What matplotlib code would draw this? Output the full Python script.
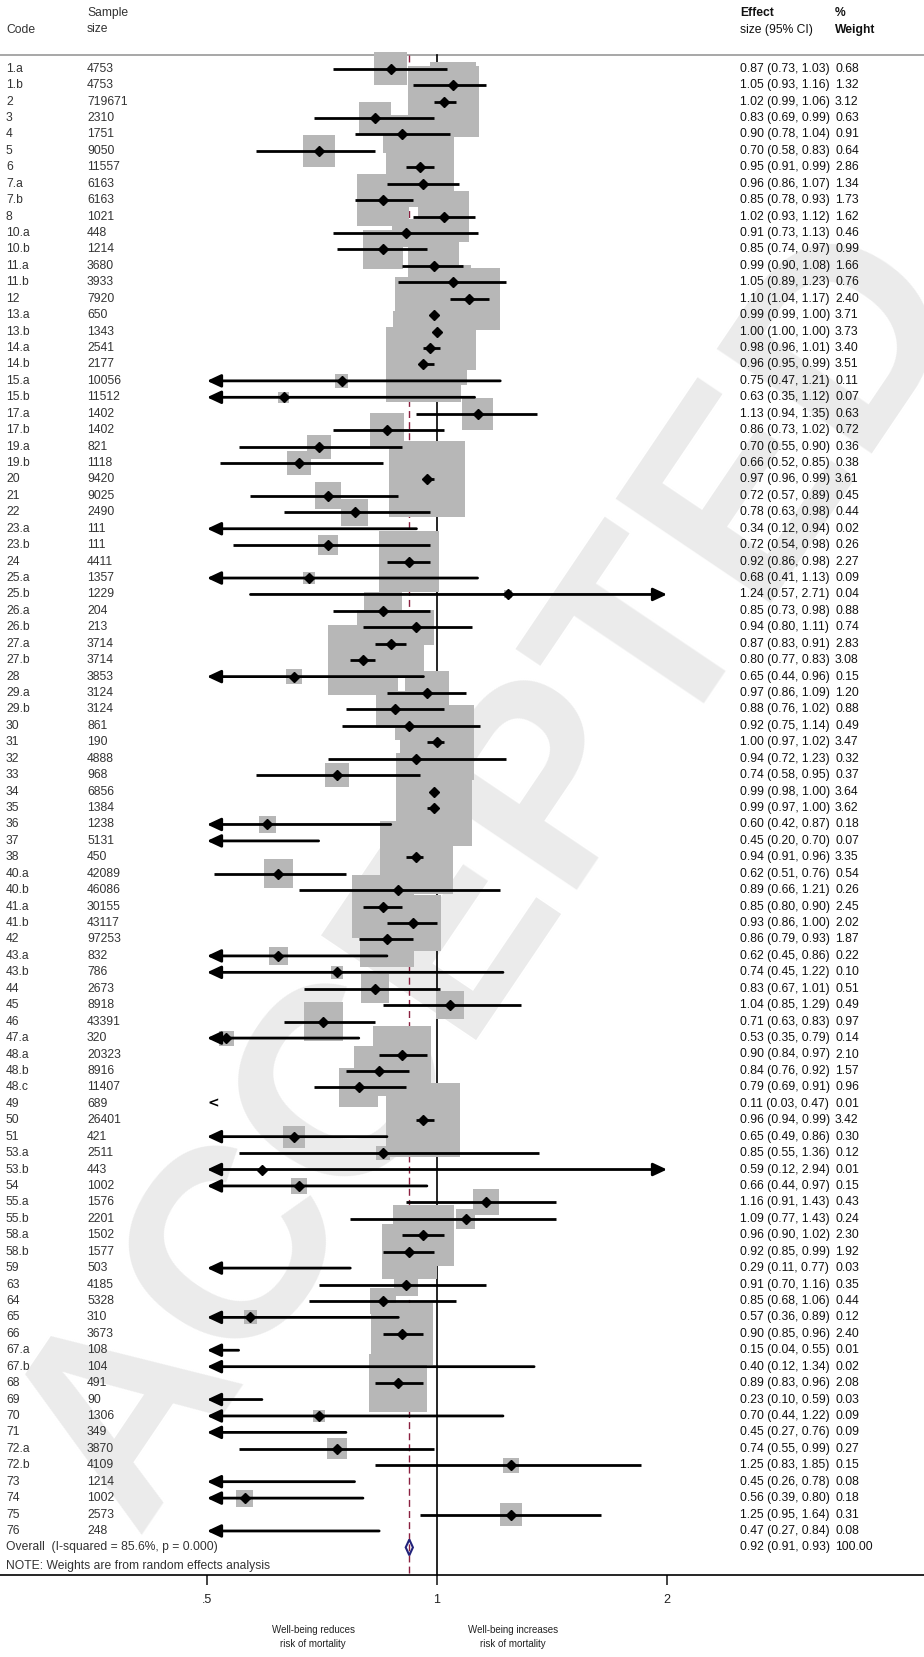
import matplotlib
matplotlib.use('Agg')
import matplotlib.pyplot as plt
import numpy as np
from matplotlib import transforms, font_manager
from matplotlib.ticker import NullLocator

codes = ["1.a","1.b","2","3","4","5","6","7.a","7.b","8",
         "10.a","10.b","11.a","11.b","12","13.a","13.b","14.a","14.b","15.a",
         "15.b","17.a","17.b","19.a","19.b","20","21","22","23.a","23.b",
         "24","25.a","25.b","26.a","26.b","27.a","27.b","28","29.a","29.b",
         "30","31","32","33","34","35","36","37","38","40.a",
         "40.b","41.a","41.b","42","43.a","43.b","44","45","46","47.a",
         "48.a","48.b","48.c","49","50","51","53.a","53.b","54","55.a",
         "55.b","58.a","58.b","59","63","64","65","66","67.a","67.b",
         "68","69","70","71","72.a","72.b","73","74","75","76"]
sizes = [4753,4753,719671,2310,1751,9050,11557,6163,6163,1021,
         448,1214,3680,3933,7920,650,1343,2541,2177,10056,
         11512,1402,1402,821,1118,9420,9025,2490,111,111,
         4411,1357,1229,204,213,3714,3714,3853,3124,3124,
         861,190,4888,968,6856,1384,1238,5131,450,42089,
         46086,30155,43117,97253,832,786,2673,8918,43391,320,
         20323,8916,11407,689,26401,421,2511,443,1002,1576,
         2201,1502,1577,503,4185,5328,310,3673,108,104,
         491,90,1306,349,3870,4109,1214,1002,2573,248]
effect = [0.87,1.05,1.02,0.83,0.90,0.70,0.95,0.96,0.85,1.02,
          0.91,0.85,0.99,1.05,1.10,0.99,1.00,0.98,0.96,0.75,
          0.63,1.13,0.86,0.70,0.66,0.97,0.72,0.78,0.34,0.72,
          0.92,0.68,1.24,0.85,0.94,0.87,0.80,0.65,0.97,0.88,
          0.92,1.00,0.94,0.74,0.99,0.99,0.60,0.45,0.94,0.62,
          0.89,0.85,0.93,0.86,0.62,0.74,0.83,1.04,0.71,0.53,
          0.90,0.84,0.79,0.11,0.96,0.65,0.85,0.59,0.66,1.16,
          1.09,0.96,0.92,0.29,0.91,0.85,0.57,0.90,0.15,0.40,
          0.89,0.23,0.70,0.45,0.74,1.25,0.45,0.56,1.25,0.47]
ci_low = [0.73,0.93,0.99,0.69,0.78,0.58,0.91,0.86,0.78,0.93,
          0.73,0.74,0.90,0.89,1.04,0.99,1.00,0.96,0.95,0.47,
          0.35,0.94,0.73,0.55,0.52,0.96,0.57,0.63,0.12,0.54,
          0.86,0.41,0.57,0.73,0.80,0.83,0.77,0.44,0.86,0.76,
          0.75,0.97,0.72,0.58,0.98,0.97,0.42,0.20,0.91,0.51,
          0.66,0.80,0.86,0.79,0.45,0.45,0.67,0.85,0.63,0.35,
          0.84,0.76,0.69,0.03,0.94,0.49,0.55,0.12,0.44,0.91,
          0.77,0.90,0.85,0.11,0.70,0.68,0.36,0.85,0.04,0.12,
          0.83,0.10,0.44,0.27,0.55,0.83,0.26,0.39,0.95,0.27]
ci_high = [1.03,1.16,1.06,0.99,1.04,0.83,0.99,1.07,0.93,1.12,
           1.13,0.97,1.08,1.23,1.17,1.00,1.00,1.01,0.99,1.21,
           1.12,1.35,1.02,0.90,0.85,0.99,0.89,0.98,0.94,0.98,
           0.98,1.13,2.71,0.98,1.11,0.91,0.83,0.96,1.09,1.02,
           1.14,1.02,1.23,0.95,1.00,1.00,0.87,0.70,0.96,0.76,
           1.21,0.90,1.00,0.93,0.86,1.22,1.01,1.29,0.83,0.79,
           0.97,0.92,0.91,0.47,0.99,0.86,1.36,2.94,0.97,1.43,
           1.43,1.02,0.99,0.77,1.16,1.06,0.89,0.96,0.55,1.34,
           0.96,0.59,1.22,0.76,0.99,1.85,0.78,0.80,1.64,0.84]
weights = [0.68,1.32,3.12,0.63,0.91,0.64,2.86,1.34,1.73,1.62,
           0.46,0.99,1.66,0.76,2.40,3.71,3.73,3.40,3.51,0.11,
           0.07,0.63,0.72,0.36,0.38,3.61,0.45,0.44,0.02,0.26,
           2.27,0.09,0.04,0.88,0.74,2.83,3.08,0.15,1.20,0.88,
           0.49,3.47,0.32,0.37,3.64,3.62,0.18,0.07,3.35,0.54,
           0.26,2.45,2.02,1.87,0.22,0.10,0.51,0.49,0.97,0.14,
           2.10,1.57,0.96,0.01,3.42,0.30,0.12,0.01,0.15,0.43,
           0.24,2.30,1.92,0.03,0.35,0.44,0.12,2.40,0.01,0.02,
           2.08,0.03,0.09,0.09,0.27,0.15,0.08,0.18,0.31,0.08]
overall_es, overall_lo, overall_hi = 0.92, 0.91, 0.93
overall_label = "Overall  (I-squared = 85.6%, p = 0.000)"
note_text = "NOTE: Weights are from random effects analysis"
tick_vals = [0.5, 1, 2]
tick_labels = [".5", "1", "2"]
x_min_clip, x_max_clip = 0.5, 2.0

# ---- fonts
avail = {f.name for f in font_manager.fontManager.ttflist}
fam = ['Liberation Sans Narrow', 'Liberation Sans', 'DejaVu Sans'] if 'Liberation Sans Narrow' in avail else ['Liberation Sans', 'DejaVu Sans']
plt.rcParams['font.family'] = fam

W, H = 924, 1657
fig = plt.figure(figsize=(W/100, H/100), dpi=100)

# watermark
fig.text(0.535, 0.47, "ACCEPTED", rotation=56, fontsize=195, color='#ebebeb',
         ha='center', va='center', fontweight='bold', family=['Liberation Sans', 'DejaVu Sans'],
         zorder=-5)

ax = fig.add_axes([0, 0, 1, 1])
ax.patch.set_visible(False)

# geometry (pixels)
x_one_px, px_per_doubling = 437.0, 230.0
row0_px, row_h = 68.7, 16.43
ax.set_xscale('log', base=2)
ax.set_xlim(2 ** (-x_one_px / px_per_doubling), 2 ** ((W - x_one_px) / px_per_doubling))
ax.set_ylim((H - row0_px) / row_h, -row0_px / row_h)

def py(px):
    return (px - row0_px) / row_h

n = len(codes)
ys = np.arange(n)
overall_y = n
note_y = py(1566.5)
axis_y = py(1575)
top_y = py(55)

# reference lines
ax.axhline(top_y, color='#a0a0a0', lw=1.3, zorder=1)
ax.plot([1, 1], [top_y, axis_y], color='black', lw=1.2, zorder=1)
ax.plot([overall_es, overall_es], [top_y, axis_y], color='#8b2040', lw=1.0,
        dashes=(5, 3), zorder=1)

# boxes
effect_a = np.array(effect); w_a = np.array(weights)
inside = (effect_a >= x_min_clip) & (effect_a <= x_max_clip)
side_pt = 40 * np.sqrt(w_a) * 0.72
ax.scatter(effect_a[inside], ys[inside], marker='s', s=side_pt[inside] ** 2,
           color='#b7b7b7', linewidths=0, zorder=2)

# CIs
lw = 2.0
astyle = 'head_length=0.75,head_width=0.35'
for i in range(n):
    y = ys[i]
    lo, hi = ci_low[i], ci_high[i]
    if hi < x_min_clip:
        ax.text(x_min_clip, y, "<", ha='left', va='center', fontsize=10,
                fontweight='bold', family=['DejaVu Sans'], zorder=4)
        continue
    left_arrow = lo < x_min_clip
    right_arrow = hi > x_max_clip
    a = max(lo, x_min_clip); b = min(hi, x_max_clip)
    if left_arrow and right_arrow:
        ax.annotate('', xy=(a, y), xytext=(b, y),
                    arrowprops=dict(arrowstyle='<|-|>,' + astyle,
                                    mutation_scale=11, lw=lw, color='black',
                                    shrinkA=0, shrinkB=0), zorder=3)
    elif left_arrow:
        ax.annotate('', xy=(a, y), xytext=(b, y),
                    arrowprops=dict(arrowstyle='-|>,' + astyle,
                                    mutation_scale=11, lw=lw, color='black',
                                    shrinkA=0, shrinkB=0), zorder=3)
    elif right_arrow:
        ax.annotate('', xy=(b, y), xytext=(a, y),
                    arrowprops=dict(arrowstyle='-|>,' + astyle,
                                    mutation_scale=11, lw=lw, color='black',
                                    shrinkA=0, shrinkB=0), zorder=3)
    else:
        ax.plot([a, b], [y, y], color='black', lw=lw, solid_capstyle='butt', zorder=3)

ax.plot(effect_a[inside], ys[inside], linestyle='none', marker='D', ms=5.2,
        color='black', zorder=4)

# overall diamond
hd = 0.48
ax.fill([overall_lo, overall_es, overall_hi, overall_es],
        [overall_y, overall_y - hd, overall_y, overall_y + hd],
        facecolor='none', edgecolor='#22227a', lw=1.5, zorder=4)

# axis
for s in ['top', 'left', 'right']:
    ax.spines[s].set_visible(False)
ax.spines['bottom'].set_position(('data', axis_y))
ax.spines['bottom'].set_linewidth(1.2)
ax.set_yticks([])
ax.set_xticks(tick_vals)
ax.set_xticklabels(tick_labels)
ax.xaxis.set_minor_locator(NullLocator())
ax.tick_params(axis='x', length=7.5, width=1.2, direction='out', pad=6,
               labelsize=9, colors='#222222')

# text columns
tr = transforms.blended_transform_factory(ax.transAxes, ax.transData)
x_code, x_size, x_eff, x_w = 6 / W, 87 / W, 740 / W, 835 / W
fs = 8.7
left_col = '#333333'
right_col = '#111111'
for i in range(n):
    ax.text(x_code, ys[i], codes[i], transform=tr, fontsize=fs, va='center', color=left_col)
    ax.text(x_size, ys[i], str(sizes[i]), transform=tr, fontsize=fs, va='center', color=left_col)
    ax.text(x_eff, ys[i], f"{effect[i]:.2f} ({ci_low[i]:.2f}, {ci_high[i]:.2f})",
            transform=tr, fontsize=fs, va='center', color=right_col)
    ax.text(x_w, ys[i], f"{weights[i]:.2f}", transform=tr, fontsize=fs, va='center', color=right_col)

ax.text(x_code, overall_y, overall_label, transform=tr, fontsize=fs, va='center', color=left_col)
ax.text(x_eff, overall_y, f"{overall_es:.2f} ({overall_lo:.2f}, {overall_hi:.2f})",
        transform=tr, fontsize=fs, va='center', color=right_col)
ax.text(x_w, overall_y, "100.00", transform=tr, fontsize=fs, va='center', color=right_col)
ax.text(x_code, note_y, note_text, transform=tr, fontsize=fs, va='center', color=left_col)

# headers
def fy(px):
    return 1 - px / H
fig.text(x_code, fy(30), "Code", fontsize=fs, va='center', color=left_col)
fig.text(x_size, fy(13), "Sample", fontsize=fs, va='center', color=left_col)
fig.text(x_size, fy(29), "size", fontsize=fs, va='center', color=left_col)
fig.text(x_eff, fy(13), "Effect", fontsize=fs, va='center', color=right_col, fontweight='bold')
fig.text(x_eff, fy(30), "size (95% CI)", fontsize=fs, va='center', color=right_col)
fig.text(x_w, fy(13), "%", fontsize=fs, va='center', color=right_col, fontweight='bold')
fig.text(x_w, fy(30), "Weight", fontsize=fs, va='center', color=right_col, fontweight='bold')

# captions
fig.text(313 / W, fy(1637), "Well-being reduces\nrisk of mortality", fontsize=7,
         ha='center', va='center', color='#222222', linespacing=1.4)
fig.text(513 / W, fy(1637), "Well-being increases\nrisk of mortality", fontsize=7,
         ha='center', va='center', color='#222222', linespacing=1.4)

fig.savefig('out.png', dpi=100)
